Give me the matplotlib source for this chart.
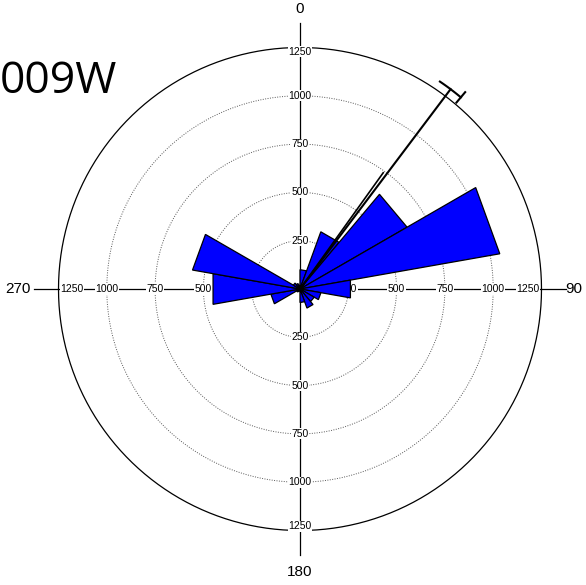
import numpy as np
import matplotlib.pyplot as plt

# rose diagram data: 20 degree bins, compass convention (0 = north, clockwise)
bin_edges = np.arange(0, 361, 20)
counts = [100, 315, 640, 1050, 265, 110, 85, 105, 70,
          10, 15, 20, 153, 457, 565, 40, 30, 20]
ring_values = [250, 500, 750, 1000, 1250]
compass_labels = {0: "0", 90: "90", 180: "180", 270: "270"}
mean_dir = 37.0
mean_len = 1295
ci_low, ci_high = 34.0, 40.0
inner_dir, inner_len = 35.6, 740
title = "009W"

W, H = 586, 585
cx, cy = 300, 289           # pixel position of the centre
upp = 1250 / 241.5          # data units per pixel


def pol(r, deg):
    t = np.deg2rad(deg)
    return r * np.sin(t), r * np.cos(t)


def main():
    fig = plt.figure(figsize=(W / 100, H / 100), dpi=100)
    ax = fig.add_axes([0, 0, 1, 1])
    ax.set_xlim(-cx * upp, (W - cx) * upp)
    ax.set_ylim(-(H - cy) * upp, cy * upp)
    ax.set_aspect("equal")
    ax.axis("off")

    # rings
    th = np.linspace(0, 360, 721)
    for r in ring_values[:-1]:
        x, y = pol(r, th)
        ax.plot(x, y, ls=(0, (1, 1.5)), color="0.35", lw=0.7, zorder=1)
    x, y = pol(ring_values[-1], th)
    ax.plot(x, y, color="k", lw=0.9, zorder=1)

    # cross lines
    L = 1375
    ax.plot([-L, L], [0, 0], color="k", lw=0.9, zorder=1)
    ax.plot([0, 0], [-L, L], color="k", lw=0.9, zorder=1)

    # ring labels along the cross
    lab = dict(fontsize=7.5, family="Liberation Sans", ha="center", va="center",
               zorder=2, bbox=dict(boxstyle="square,pad=0.05", fc="white", ec="none"))
    for v in ring_values:
        rv = 1227 if v == 1250 else v
        rh = 1180 if v == 1250 else v
        ax.text(0, rv, str(v), **lab)
        ax.text(0, -rv, str(v), **lab)
        ax.text(rh, 0, str(v), **lab)
        ax.text(-rh, 0, str(v), **lab)

    compass_r = {0: 1450, 90: 1418, 180: 1465, 270: 1460}
    for deg, s in compass_labels.items():
        x, y = pol(compass_r[deg], deg)
        ax.text(x, y, s, fontsize=11, family="Liberation Sans",
                ha="center", va="center")

    # wedges (straight chords, like a classic rose plot)
    for e0, e1, c in zip(bin_edges[:-1], bin_edges[1:], counts):
        x0, y0 = pol(c, e0)
        x1, y1 = pol(c, e1)
        ax.fill([0, x0, x1], [0, y0, y1], facecolor="#0000ff",
                edgecolor="k", lw=0.9, zorder=3)

    # mean direction with confidence arc
    x, y = pol(mean_len, mean_dir)
    ax.plot([0, x], [0, y], color="k", lw=1.5, zorder=4)
    x, y = pol(inner_len, inner_dir)
    ax.plot([0, x], [0, y], color="k", lw=1.2, zorder=4)
    ta = np.linspace(ci_low, ci_high, 20)
    x, y = pol(mean_len, ta)
    ax.plot(x, y, color="k", lw=1.5, zorder=4)
    x, y = pol(np.array([mean_len - 35, mean_len + 35]), ci_high)
    ax.plot(x, y, color="k", lw=1.5, zorder=4)

    fig.text(0.0, 1 - 93 / H, title, fontsize=32, family="Open Sans",
             ha="left", va="baseline")

    fig.savefig("out.png", dpi=100, facecolor="white")


if __name__ == "__main__":
    main()
